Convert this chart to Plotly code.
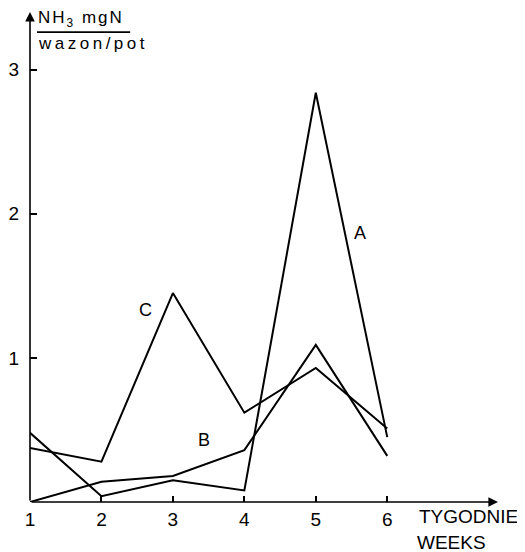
import plotly.graph_objects as go

weeks = [1, 2, 3, 4, 5, 6]
series_A = [0.48, 0.04, 0.15, 0.08, 2.84, 0.45]
series_B = [0.00, 0.14, 0.18, 0.36, 1.09, 0.32]
series_C = [0.375, 0.28, 1.45, 0.62, 0.93, 0.51]
tick_vals_y = [1, 2, 3]
tick_vals_x = [1, 2, 3, 4, 5, 6]

FONT = "Liberation Sans"
fig = go.Figure()
for name, vals in [("A", series_A), ("B", series_B), ("C", series_C)]:
    fig.add_trace(go.Scatter(x=weeks, y=vals, mode="lines", name=name,
                             line=dict(color="black", width=2), showlegend=False,
                             cliponaxis=False))

labels = [("A", 5.62, 1.87), ("B", 3.44, 0.43), ("C", 2.62, 1.33)]
for t, x, y in labels:
    fig.add_annotation(x=x, y=y, text=t, showarrow=False,
                       font=dict(size=18, color="black", family=FONT))

XMAX, YMAX = 7.55, 3.40
# axes with arrows
fig.add_annotation(x=XMAX, y=0, ax=1, ay=0, axref="x", ayref="y", xref="x", yref="y",
                   text="", showarrow=True, arrowhead=2, arrowsize=1.2, arrowwidth=1.6,
                   arrowcolor="black")
fig.add_annotation(x=1, y=YMAX, ax=1, ay=0, axref="x", ayref="y", xref="x", yref="y",
                   text="", showarrow=True, arrowhead=2, arrowsize=1.2, arrowwidth=1.6,
                   arrowcolor="black")

# y title (fraction)
fig.add_annotation(xref="paper", yref="paper", x=0.012, y=0.960, xanchor="left", yanchor="bottom",
                   text='<span style="letter-spacing:2px">NH<sub>3</sub> mgN</span>', showarrow=False,
                   font=dict(size=17, color="black", family=FONT))
fig.add_annotation(xref="paper", yref="paper", x=0.012, y=0.960, xanchor="left", yanchor="top",
                   text='<span style="letter-spacing:3.5px">wazon/pot</span>', showarrow=False,
                   font=dict(size=17, color="black", family=FONT))
fig.add_shape(type="line", xref="paper", yref="paper", x0=0.015, x1=0.214, y0=0.959, y1=0.959,
              line=dict(color="black", width=1.6))

# x title
fig.add_annotation(xref="paper", yref="paper", x=0.826, y=-0.004, xanchor="left", yanchor="top",
                   text="TYGODNIE", showarrow=False,
                   font=dict(size=19, color="black", family=FONT))
fig.add_annotation(xref="paper", yref="paper", x=0.822, y=-0.057, xanchor="left", yanchor="top",
                   text="WEEKS", showarrow=False,
                   font=dict(size=19, color="black", family=FONT))

fig.update_xaxes(range=[1, XMAX], tickvals=tick_vals_x, ticks="inside", ticklen=6,
                 tickcolor="black", tickwidth=1.5, showgrid=False, zeroline=False,
                 showline=False, automargin=False, ticklabelstandoff=4,
                 tickfont=dict(size=19, color="black", family=FONT))
fig.update_yaxes(range=[0, YMAX], tickvals=tick_vals_y, ticks="inside", ticklen=7,
                 tickcolor="black", tickwidth=1.5, showgrid=False, zeroline=False,
                 showline=False, automargin=False, ticklabelstandoff=10,
                 tickfont=dict(size=19, color="black", family=FONT))

# the page body adds an 8px offset, so the figure is sized to fit the window
fig.update_layout(width=517, height=544, plot_bgcolor="white", paper_bgcolor="white",
                  margin=dict(l=22, r=27, t=4, b=50))
fig.write_html("out.html")
